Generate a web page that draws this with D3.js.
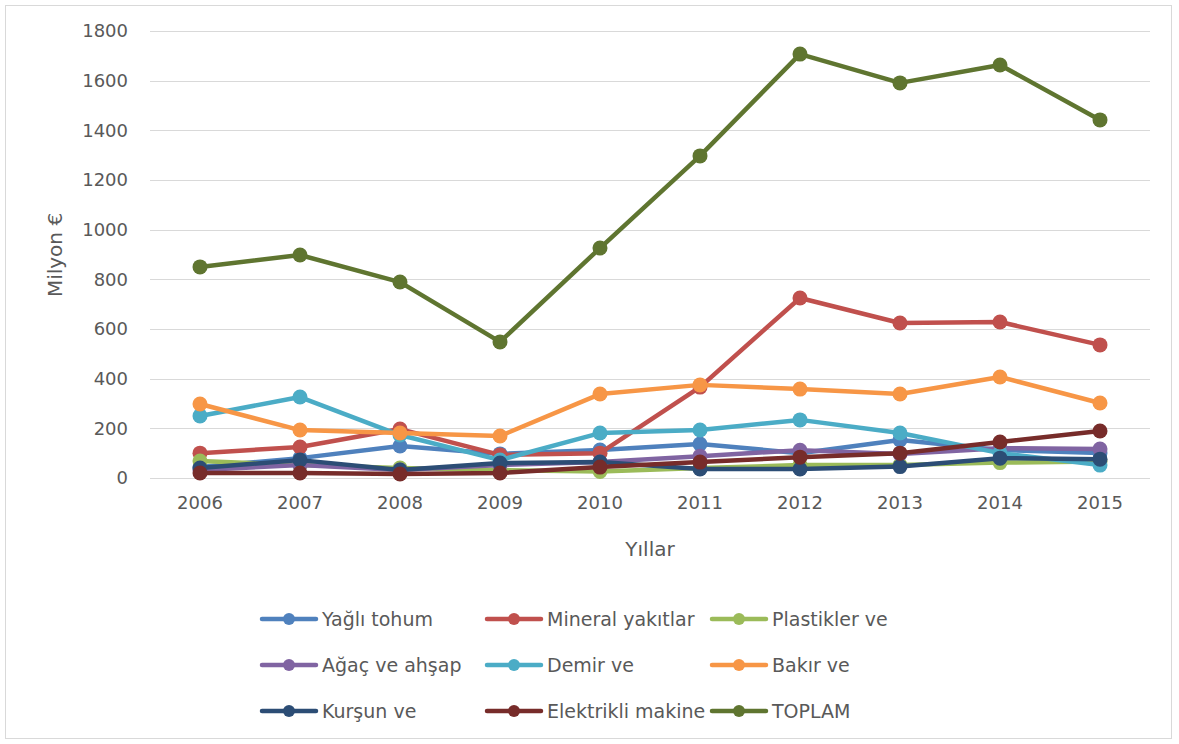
<!DOCTYPE html>
<html><head><meta charset="utf-8">
<script src="https://cdn.jsdelivr.net/npm/d3@7"></script>
<style>body{margin:0;background:#fff;} text{font-family:"DejaVu Sans",sans-serif;}</style>
</head><body>
<svg id="c" width="1179" height="744"></svg>
<script>
const years = ["2006","2007","2008","2009","2010","2011","2012","2013","2014","2015"];
const yTicks = [0,200,400,600,800,1000,1200,1400,1600,1800];
const seriesNames = ["Yağlı tohum","Mineral yakıtlar","Plastikler ve","Ağaç ve ahşap","Demir ve","Bakır ve","Kurşun ve","Elektrikli makine","TOPLAM"];
const seriesColors = ["#4F81BD","#C0504D","#9BBB59","#8064A2","#4BACC6","#F79646","#2C4D75","#772C2A","#5F7530"];
const yagliTohum = [44,80,129,97,113,137,100,153,113,101];
const mineralYakitlar = [100,125,197,93,100,366,725,624,628,536];
const plastikler = [68,52,40,32,26,40,52,52,62,66];
const agacAhsap = [32,52,32,52,64,88,112,97,120,117];
const demir = [250,326,173,72,181,193,234,181,100,52];
const bakir = [298,193,181,169,338,375,358,338,407,302];
const kursun = [40,72,32,60,64,36,36,46,80,76];
const elektrikli = [20,20,16,20,44,64,84,100,145,189];
const toplam = [850,898,789,548,926,1297,1707,1591,1663,1442];
const seriesValues = [yagliTohum,mineralYakitlar,plastikler,agacAhsap,demir,bakir,kursun,elektrikli,toplam];

const svg = d3.select("#c");
svg.append("rect").attr("x",5.5).attr("y",5.5).attr("width",1166).attr("height",733)
  .attr("fill","#fff").attr("stroke","#d9d9d9").attr("stroke-width",1);

const x = d3.scaleBand().domain(years).range([150,1150]);
const y = d3.scaleLinear().domain([0,1800]).range([478,31]);

svg.append("g").selectAll("line").data(yTicks).join("line")
  .attr("x1",150).attr("x2",1150).attr("y1",d=>Math.round(y(d))+0.5).attr("y2",d=>Math.round(y(d))+0.5)
  .attr("stroke","#d9d9d9").attr("stroke-width",1);

const ya = svg.append("g").attr("transform","translate(150,0)")
  .call(d3.axisLeft(y).tickValues(yTicks).tickFormat(d3.format("d")).tickSize(0).tickPadding(22));
ya.select(".domain").remove();
ya.selectAll("text").attr("font-size",18).attr("fill","#595959").attr("font-family","DejaVu Sans");

const xa = svg.append("g").attr("transform","translate(0,478)")
  .call(d3.axisBottom(x).tickSize(0).tickPadding(18));
xa.select(".domain").remove();
xa.selectAll("text").attr("font-size",18).attr("fill","#595959").attr("font-family","DejaVu Sans");

svg.append("text").attr("transform","translate(62,255) rotate(-90)").attr("text-anchor","middle")
  .attr("font-size",20).attr("fill","#595959").text("Milyon €");
svg.append("text").attr("x",650).attr("y",556).attr("text-anchor","middle")
  .attr("font-size",20).attr("fill","#595959").text("Yıllar");

const line = d3.line().x((d,i)=>x(years[i])+x.bandwidth()/2).y(d=>y(d));
seriesValues.forEach((vals,k)=>{
  const g = svg.append("g");
  g.append("path").datum(vals).attr("d",line).attr("fill","none")
    .attr("stroke",seriesColors[k]).attr("stroke-width",4.5).attr("stroke-linejoin","round").attr("stroke-linecap","round");
  g.selectAll("circle").data(vals).join("circle")
    .attr("cx",(d,i)=>x(years[i])+x.bandwidth()/2).attr("cy",d=>y(d)).attr("r",7.5)
    .attr("fill",seriesColors[k]);
});

const leg = svg.append("g");
seriesNames.forEach((n,k)=>{
  const col = k%3, row = Math.floor(k/3);
  const lx = 262 + col*225, ly = 619 + row*46;
  leg.append("line").attr("x1",lx).attr("x2",lx+54).attr("y1",ly).attr("y2",ly)
    .attr("stroke",seriesColors[k]).attr("stroke-width",4.5).attr("stroke-linecap","round");
  leg.append("circle").attr("cx",lx+27).attr("cy",ly).attr("r",6).attr("fill",seriesColors[k]);
  leg.append("text").attr("x",lx+60).attr("y",ly).attr("dy","0.35em").attr("font-size",19)
    .attr("fill","#595959").text(n);
});
</script>
</body></html>
